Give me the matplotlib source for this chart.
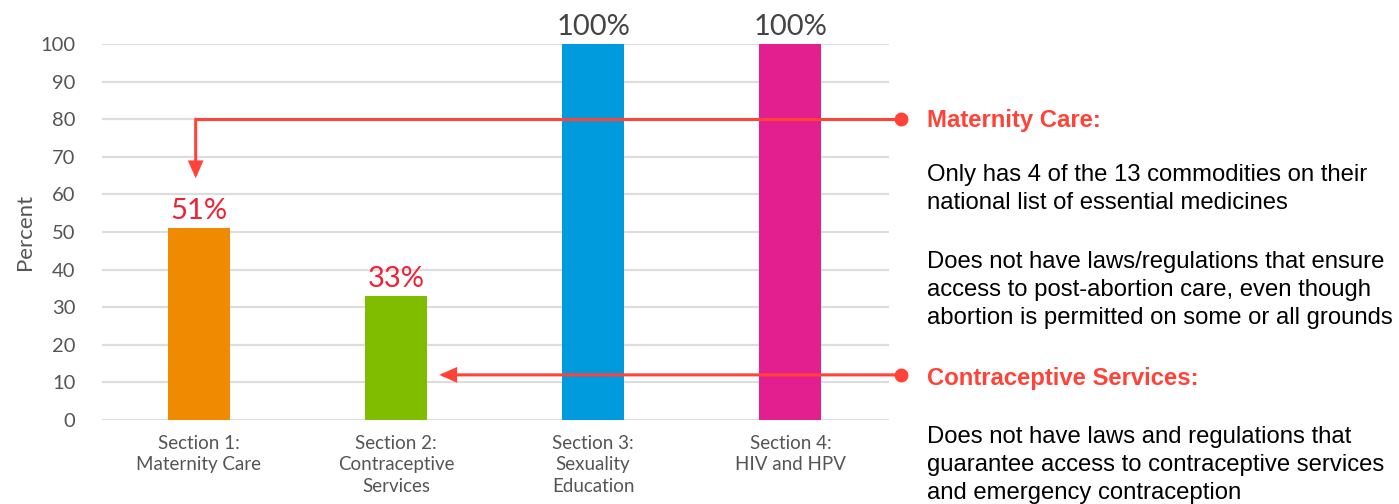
import matplotlib.pyplot as plt

# chart data
sections = ["Section 1:\nMaternity Care", "Section 2:\nContraceptive\nServices",
            "Section 3:\nSexuality\nEducation", "Section 4:\nHIV and HPV"]
scores = [51, 33, 100, 100]
bar_colors = ["#f08a00", "#80bd00", "#009bdc", "#e31e8f"]
label_colors = ["#ee2233", "#ee2233", "#444444", "#444444"]
yticks = list(range(0, 101, 10))

RED = "#ff4338"
GREY = "#555555"

fig = plt.figure(figsize=(13.99, 5.04), dpi=100)
W, H = 1399, 504
ax = fig.add_axes([102 / W, 1 - 420 / H, (889 - 102) / W, (420 - 44) / H])

x = list(range(len(scores)))
ax.bar(x, scores, width=0.315, color=bar_colors, zorder=2)
ax.set_xlim(-0.49, 3.5)
ax.set_ylim(0, 100)
ax.set_yticks(yticks)
ax.set_xticks(x)
ax.set_xticklabels(sections, fontsize=13.5, color=GREY, family="Lato",
                   linespacing=1.3)
ax.tick_params(axis="x", length=0, pad=11)
ax.tick_params(axis="y", length=0, pad=19, labelsize=14.5, labelcolor=GREY)
for lbl in ax.get_yticklabels():
    lbl.set_family("Lato")
ax.grid(axis="y", color="#dddddd", linewidth=1.6, zorder=0)
for s in ax.spines.values():
    s.set_visible(False)
ax.set_ylabel("Percent", fontsize=16, color=GREY, family="Lato")
ax.yaxis.set_label_coords(-0.085, 0.5)

# value labels on top of the bars
for xi, v, c in zip(x, scores, label_colors):
    ax.annotate(f"{v}%", (xi, v), xytext=(0, 3), textcoords="offset points",
                ha="center", va="bottom", fontsize=21, color=c, family="Lato")

# callout connectors
dot_x = 3.563
head = dict(arrowstyle="-|>,head_length=0.9,head_width=0.4", color=RED,
            lw=2.2, shrinkA=0, shrinkB=0, joinstyle="miter")
ax.plot([dot_x, -0.015], [80, 80], color=RED, lw=2.2, clip_on=False,
        zorder=3, solid_capstyle="projecting")
ax.annotate("", xy=(-0.015, 64.3), xytext=(-0.015, 80), arrowprops=head,
            annotation_clip=False, zorder=3)
ax.annotate("", xy=(1.22, 12), xytext=(dot_x, 12), arrowprops=head,
            annotation_clip=False, zorder=3)
ax.plot([dot_x, dot_x], [80, 12], "o", color=RED, ms=9, clip_on=False, zorder=4)

# side notes
tx = 927 / W
def note(ypx, text, **kw):
    fig.text(tx, 1 - ypx / H, text, va="center", ha="left",
             family="Liberation Sans", fontsize=17.2, **kw)

note(120, "Maternity Care:", color=RED, weight="bold")
note(189, "Only has 4 of the 13 commodities on their\nnational list of essential medicines",
     color="black", linespacing=1.36)
note(290, "Does not have laws/regulations that ensure\naccess to post-abortion care, even though\n"
     "abortion is permitted on some or all grounds", color="black", linespacing=1.36)
note(379, "Contraceptive Services:", color=RED, weight="bold")
note(465, "Does not have laws and regulations that\nguarantee access to contraceptive services\n"
     "and emergency contraception", color="black", linespacing=1.36)

fig.savefig("out.png", dpi=100)
